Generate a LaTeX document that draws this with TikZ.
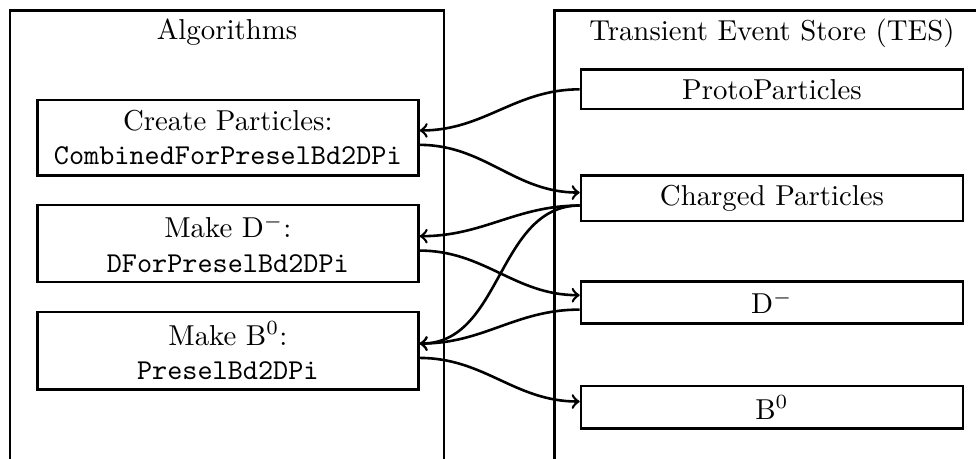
\documentclass[tikz,border=0pt]{standalone}
\usepackage{amsmath, amssymb}
\usepackage{tikz}
\tikzset{
    column/.style={shape=rectangle, draw=black, line width=0.9pt, minimum width=5.3cm, minimum height=6cm, anchor=north},
    algbox/.style={shape=rectangle, draw=black, line width=0.9pt, minimum width=4.65cm, minimum height=0.92cm, align=center},
    tesbox/.style={shape=rectangle, draw=black, line width=0.9pt, minimum width=4.66cm},
    flow/.style={->, line width=0.9pt}}

\begin{document}
\begin{tikzpicture}

            \useasboundingbox (0,0) rectangle (11.91,-5.60);
            \clip (0,0) rectangle (11.91,-5.60);

            % the two columns
            \node[column, label={[anchor=north]north:Algorithms}] (Alg) at (2.77,-0.11) {};
            \node[column, label={[anchor=north]north:Transient Event Store (TES)}] (TES) at (9.42,-0.11) {};

            % algorithms
            \node[algbox] (A1) at (2.78,-1.68) {Create Particles:\\ \texttt{CombinedForPreselBd2DPi}};
            \node[algbox] (A2) at (2.78,-2.97) {Make $\mathrm{D}^-$:\\ \texttt{DForPreselBd2DPi}};
            \node[algbox] (A3) at (2.78,-4.28) {Make $\mathrm{B}^0$:\\ \texttt{PreselBd2DPi}};

            % TES locations
            \node[tesbox] (T1) at (9.42,-1.09) {ProtoParticles};
            \node[tesbox] (T2) at (9.42,-2.42) {Charged Particles};
            \node[tesbox] (T3) at (9.42,-3.69) {$\mathrm{D}^-$};
            \node[tesbox] (T4) at (9.42,-4.97) {$\mathrm{B}^0$};

            \draw[flow] (T1.west) to[out=180, in=0] ([yshift=2.5pt]A1.east);
            \draw[flow] ([yshift=-2.5pt]A1.east) to[out=0, in=180] ([yshift=2pt]T2.west);
            \draw[flow] ([yshift=-2.5pt]T2.west) to[out=180, in=0] ([yshift=2.5pt]A2.east);
            \draw[flow] ([yshift=-2.5pt]T2.west) to[out=180, in=0] ([yshift=2.5pt]A3.east);
            \draw[flow] ([yshift=-2.5pt]A2.east) to[out=0, in=180] ([yshift=2.5pt]T3.west);
            \draw[flow] ([yshift=-2.5pt]T3.west) to[out=180, in=0] ([yshift=2.5pt]A3.east);
            \draw[flow] ([yshift=-2.5pt]A3.east) to[out=0, in=180] ([yshift=2pt]T4.west);

        \end{tikzpicture}
\end{document}
